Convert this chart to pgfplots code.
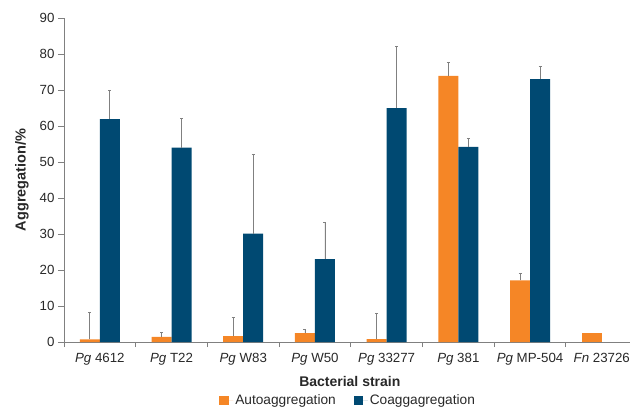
\documentclass[border=0pt]{standalone}
\usepackage{fontspec}
\setmainfont{Liberation Sans}
\usepackage{pgfplots}
\pgfplotsset{compat=1.18}
\definecolor{autoc}{RGB}{245,134,38}
\definecolor{coc}{RGB}{0,73,114}
\definecolor{axc}{RGB}{128,128,128}
\definecolor{txt}{RGB}{40,40,40}
\begin{document}
\begin{tikzpicture}
\begin{axis}[
  at={(0,0)}, anchor=south west,
  scale only axis, width=566pt, height=324pt,
  xmin=-0.5, xmax=7.394, ymin=0, ymax=90,
  axis x line*=bottom, axis y line*=left,
  axis line style={axc, line width=0.8pt},
  every tick/.style={axc, line width=0.8pt},
  ytick={0,10,...,90},
  xtick={0,...,7},
  xticklabels={\textit{Pg} 4612,\textit{Pg} T22,\textit{Pg} W83,\textit{Pg} W50,\textit{Pg} 33277,\textit{Pg} 381,\textit{Pg} MP-504,\textit{Fn} 23726},
  major x tick style={draw=none},
  minor xtick={-0.5,0.5,...,6.5},
  minor tick length=5pt,
  major tick length=6pt,
  tick align=outside,
  /pgf/number format/assume math mode=true,
  tick label style={font=\fontsize{13.3}{15}\selectfont, text=txt},
  x tick label style={yshift=-2pt},
  every axis x label/.style={at={(axis description cs:0.505,-0.1225)},anchor=center,font=\fontsize{14}{16}\selectfont\bfseries, text=txt},
  every axis y label/.style={at={(axis description cs:-0.0742,0.5)},rotate=90,anchor=center,font=\fontsize{14.5}{16}\selectfont\bfseries, text=txt},
  xlabel={Bacterial strain},
  ylabel={Aggregation/\%},
  ybar, bar width=20pt,
  legend style={at={(axis description cs:0.502,-0.181)},anchor=center, draw=none, fill=none, font=\fontsize{13.7}{15}\selectfont, text=txt, legend columns=2, /tikz/every even column/.append style={column sep=16pt}, inner sep=0pt},
  legend image code/.code={\fill[#1] (0pt,-4.5pt) rectangle (9.5pt,5pt); \path (0pt,0pt) -- (14pt,0pt);},
  error bars/error bar style={axc, line width=0.8pt},
  error bars/error mark options={rotate=90, mark size=1.5pt, line width=0.8pt, axc},
]
\addplot+[bar shift=-10pt, fill=autoc, draw=none, error bars/.cd, y dir=plus, y explicit]
  coordinates {(0,0.7) +- (0,7.4) (1,1.4) +- (0,1.3) (2,1.6) +- (0,5.3) (3,2.5) +- (0,1.0) (4,0.8) +- (0,7.2) (5,73.9) +- (0,3.8) (6,17.1) +- (0,2.0)};
\addlegendentry{Autoaggregation}
\addplot+[bar shift=10pt, fill=coc, draw=none, error bars/.cd, y dir=plus, y explicit]
  coordinates {(0,61.9) +- (0,8.1) (1,54) +- (0,8.1) (2,30.1) +- (0,22.0) (3,23) +- (0,10.2) (4,65) +- (0,17.0) (5,54.2) +- (0,2.4) (6,73) +- (0,3.6)};
\addlegendentry{Coaggagregation}
\addplot+[bar shift=-10pt, fill=autoc, draw=none, forget plot] coordinates {(7,2.4)};
\end{axis}
\pgfresetboundingbox
\path[use as bounding box] (-64pt,-66pt) rectangle (566pt,342pt);
\end{tikzpicture}
\end{document}
